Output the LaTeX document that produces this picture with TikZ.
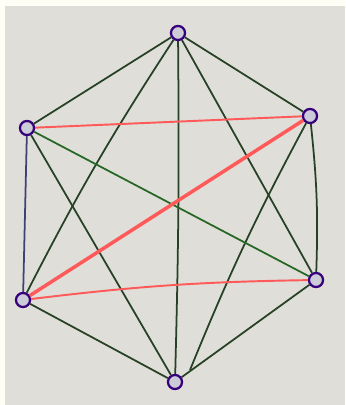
\documentclass[tikz,border=0pt]{standalone}
\usepackage{tikz}
\begin{document}
\begin{tikzpicture}[x=0.02cm,y=-0.02cm,
  vtx/.style={circle,draw=violet!60!blue!70!black,fill=blue!15!gray!35,line width=1.3pt,inner sep=0pt,minimum size=8pt},
  blk/.style={draw=black!85!green!70!gray,line width=1pt},
  grn/.style={draw=green!30!black!85,line width=1pt},
  rd/.style={draw=red!65!white,line width=1.1pt}]

\fill[white!96!yellow] (0,0) rectangle (345,405);
\fill[gray!30!white!97!yellow] (5,6) rectangle (345,405);

\node[vtx] (t) at (178, 33) {};
\node[vtx] (ul) at (27, 128) {};
\node[vtx] (ur) at (310, 116) {};
\node[vtx] (lr) at (316, 280) {};
\node[vtx] (ll) at (23, 300) {};
\node[vtx] (b) at (175, 382) {};
\coordinate (bend) at (190, 370);

% outer hexagon
\draw[blk] (t) -- (ul);
\draw[blk] (t) -- (ur);
\draw[blk] (ur) to[bend left=4] (lr);
\draw[blk] (lr) -- (b);
\draw[blk] (b) -- (ll);
\draw[blk,draw=blue!30!black!75] (ll) -- (ul);

% long diagonals
\draw[blk] (t) to[bend right=3] (ll);
\draw[blk] (t) to[bend left=1] (b);
\draw[blk] (t) -- (lr);
\draw[blk] (ul) -- (b);
\draw[blk] (ur) to[bend right=3] (bend);
\draw[grn] (ul) -- (lr);

% red ones
\draw[rd] (ul) -- (ur);
\draw[rd,line width=2pt] (ll) -- (ur);
\draw[rd] (ll) to[bend left=3] (lr);
\end{tikzpicture}
\end{document}
